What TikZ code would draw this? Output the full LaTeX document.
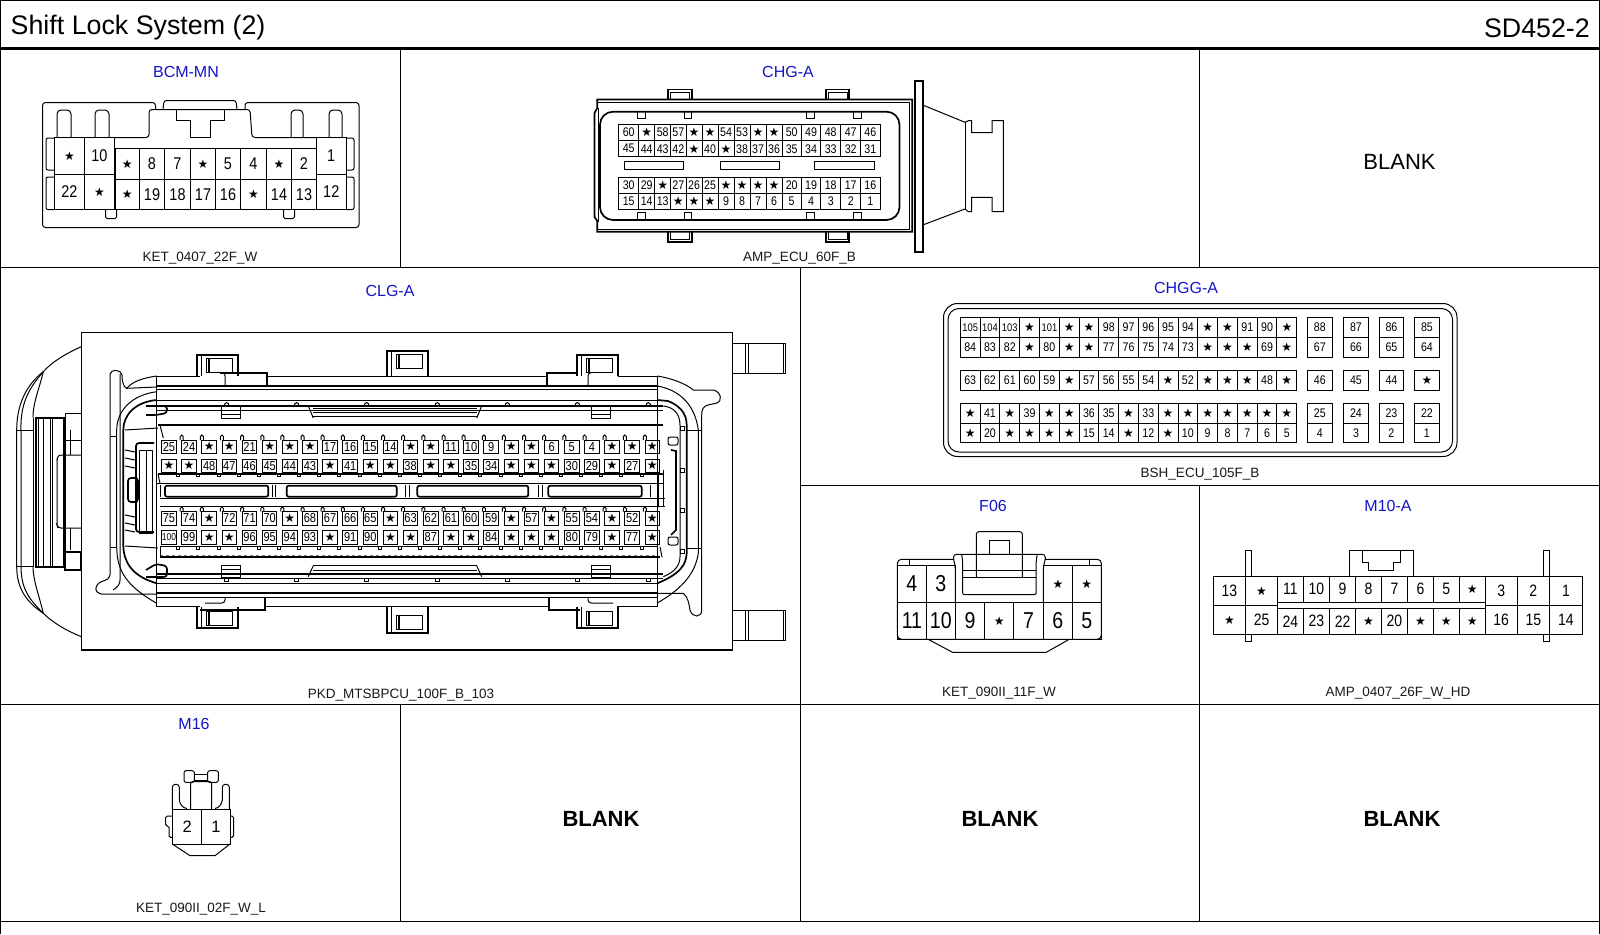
\documentclass[tikz,border=0pt]{standalone}
\usepackage{fontspec}
\setmainfont{Liberation Sans}
\newfontfamily\starf{DejaVu Sans}
\newfontfamily\condf{Liberation Sans}[FakeStretch=0.85]
\def\s{{\fontsize{12}{12}\selectfont\starf ★}}
\definecolor{tblue}{RGB}{20,20,200}
\tikzset{
 ln/.style={line width=1pt,black},
 thk/.style={line width=1.7pt,black},
 lab/.style={inner sep=0pt,outer sep=0pt,text=black},
 conname/.style={inner sep=0pt,text=tblue,font=\fontsize{16}{16}\selectfont},
 concode/.style={inner sep=0pt,text=black!90,font=\fontsize{13.5}{14}\selectfont},
 blankreg/.style={inner sep=0pt,font=\fontsize{22}{22}\selectfont},
 blankbold/.style={inner sep=0pt,font=\fontsize{22}{22}\selectfont\bfseries},
}
% y0 y1 fontsize list of x0/x1/label
\newcommand\xrow[4]{\foreach \a/\b/\t [count=\i] in {#4}{%
  \draw[ln] (\a,#1) rectangle (\b,#2);
  \node[lab,font=\condf\fontsize{#3}{#3}\selectfont] (p#1n\i) at ({(\a+\b)/2},{(#1+#2)/2}) {\t};}}
% uniform row: x0 step width y0 y1 fs labels
\newcommand\urow[7]{\foreach \t [count=\i] in {#7}{%
  \pgfmathsetmacro\a{#1+(\i-1)*#2}\pgfmathsetmacro\b{\a+#3}
  \draw[ln] (\a,#4) rectangle (\b,#5);
  \node[lab,font=\condf\fontsize{#6}{#6}\selectfont] (u#4n\i) at ({(\a+\b)/2},{(#4+#5)/2}) {\t};}}
\begin{document}
\begin{tikzpicture}[x=1pt,y=-1pt]
\useasboundingbox (0,0) rectangle (1600,934);
\fill[white] (0,0) rectangle (1600,934);
% ---------- frame
\draw[ln] (0.5,0.5) -- (1599.5,0.5);
\draw[ln] (0.5,0) -- (0.5,934);
\draw[ln] (1599.5,0) -- (1599.5,934);
\draw[line width=3.6pt] (0,48.5) -- (1600,48.5);
\draw[ln] (0,267) -- (1600,267);
\draw[ln] (800,485.5) -- (1600,485.5);
\draw[ln] (0,704) -- (1600,704);
\draw[ln] (0,921.5) -- (1600,921.5);
\draw[ln] (400.5,48) -- (400.5,267);
\draw[ln] (1199.5,48) -- (1199.5,267);
\draw[ln] (800.5,267) -- (800.5,921.5);
\draw[ln] (1199.5,485.5) -- (1199.5,921.5);
\draw[ln] (400.5,704) -- (400.5,921.5);
% ---------- titles
\node[inner sep=0pt,anchor=west,font=\fontsize{26.8}{27}\selectfont] (title) at (10.5,28) {Shift Lock System (2)};
\node[inner sep=0pt,anchor=east,font=\fontsize{26.8}{27}\selectfont] (sheet) at (1590,28) {SD452-2};
\node[conname] (nBCM) at (186,71.5) {BCM-MN};
\node[concode] (cBCM) at (200,258.5) {KET\_0407\_22F\_W};
\node[conname] (nCHG) at (788,71.5) {CHG-A};
\node[concode] (cCHG) at (799.5,258.5) {AMP\_ECU\_60F\_B};
\node[conname] (nCLG) at (390,290.5) {CLG-A};
\node[concode] (cCLG) at (401,695) {PKD\_MTSBPCU\_100F\_B\_103};
\node[conname] (nCHGG) at (1186,287.5) {CHGG-A};
\node[concode] (cCHGG) at (1200,474.5) {BSH\_ECU\_105F\_B};
\node[conname] (nF) at (993,506) {F06};
\node[concode] (cF) at (999,693) {KET\_090II\_11F\_W};
\node[conname] (nM10) at (1388,506) {M10-A};
\node[concode] (cM10) at (1398,693) {AMP\_0407\_26F\_W\_HD};
\node[conname] (nM16) at (194,723.5) {M16};
\node[concode] (cM16) at (201,909.5) {KET\_090II\_02F\_W\_L};
\node[blankreg] (b1) at (1399.5,161.5) {BLANK};
\node[blankbold] (b2) at (601,818.5) {BLANK};
\node[blankbold] (b3) at (1000,818.5) {BLANK};
\node[blankbold] (b4) at (1402,818.5) {BLANK};
% ---------- BCM-MN
\draw[ln,rounded corners=3pt] (155.5,109) -- (155.5,102.5) -- (42.5,102.5) -- (42.5,227.5) -- (359,227.5) -- (359,102.5) -- (245,102.5) -- (245,109);
\draw[ln,rounded corners=2.5pt] (163,109) -- (164,100.5) -- (236,100.5) -- (237,109);
\draw[ln,rounded corners=3pt] (115,137.5) -- (149,137.5) -- (149,109.5) -- (250,109.5) -- (252,137.5) -- (317,137.5);
\draw[ln] (176,110) -- (176,120) -- (190,120) -- (190,137) -- (210,137) -- (210,120) -- (224,120) -- (224,110);
\foreach \p/\q in {57/71,95/109,291/303,329/342}{\draw[ln,rounded corners=4pt] (\p,137.5) -- (\p,110) -- (\q,110) -- (\q,137.5);}
\draw[ln,rounded corners=2pt] (54,138) -- (46,138) -- (46,170) -- (54,170);
\draw[ln,rounded corners=2pt] (54,177) -- (46,177) -- (46,209.5) -- (54,209.5);
\draw[ln,rounded corners=2pt] (346,138) -- (354,138) -- (354,170) -- (346,170);
\draw[ln,rounded corners=2pt] (346,177) -- (354,177) -- (354,209.5) -- (346,209.5);
\draw[ln,rounded corners=1.5pt] (105.5,209.5) -- (105.5,218.5) -- (116.5,218.5) -- (116.5,209.5);
\draw[ln,rounded corners=1.5pt] (283.5,209.5) -- (283.5,218.5) -- (294.5,218.5) -- (294.5,209.5);
\xrow{137.5}{174.5}{17}{54.5/84.5/\s,84.5/114.5/10,316.5/346/1}
\xrow{174.5}{209.5}{17}{54.5/84.5/22,84.5/114.5/\s,316.5/346/12}
\xrow{148.5}{179.5}{17}{115/139.5/\s,139.5/164.5/8,164.5/190.5/7,190.5/215.5/\s,215.5/240.5/5,240.5/266.5/4,266.5/291.5/\s,291.5/316.5/2}
\xrow{179.5}{209.5}{17}{115/139.5/\s,139.5/164.5/19,164.5/190.5/18,190.5/215.5/17,215.5/240.5/16,240.5/266.5/\s,266.5/291.5/14,291.5/316.5/13}
% ---------- CHG-A
\draw[thk] (597.3,99.5) -- (912.3,99.5) -- (912.3,231.7) -- (597.3,231.7) -- (597.3,221) -- (594.5,217) -- (594.5,113) -- (597.3,108) -- cycle;
\draw[ln] (597.3,102) -- (909.5,102) -- (909.5,229) -- (597.3,229);
\draw[ln] (598.5,108) -- (598.5,222);
\draw[thk,rounded corners=13pt] (600,111.7) rectangle (899.5,220);
\foreach \p/\q in {637.3/645.7,684/691.7,806.7/814.3,853.3/861.7}{
 \draw[ln] (\p,111.7) rectangle (\q,118.7);
 \draw[ln] (\p,212.3) rectangle (\q,220);}
\foreach \p/\q in {668.3/691.7,826.3/849.3}{
 \draw[thk] (\p,99.5) -- (\p,89.5) -- (\q,89.5) -- (\q,99.5);
 \draw[ln] (\p+2,99.5) -- (\p+2,92) -- (\q-2,92) -- (\q-2,99.5);
 \draw[thk] (\p,231.7) -- (\p,241.7) -- (\q,241.7) -- (\q,231.7);
 \draw[ln] (\p+2,231.7) -- (\p+2,239.2) -- (\q-2,239.2) -- (\q-2,231.7);}
\draw[thk] (915,80.7) rectangle (922.7,251.7);
\draw[ln] (922.7,105) -- (965,122.3) -- (968.3,120.7) -- (971.7,120.7) -- (971.7,132.7) -- (992,132.7) -- (992,120.7) -- (1003.3,120.7) -- (1003.3,211.7) -- (992,211.7) -- (992,197.3) -- (971.7,197.3) -- (971.7,211.7) -- (968.3,211.7) -- (965,209) -- (922.7,225);
\draw[ln] (965,122.3) -- (965,209);
\foreach \lbls/\ya/\yb in {
 {60,\s,58,57,\s,\s,54,53,\s,\s,50,49,48,47,46}/124.3/140.7,
 {45,44,43,42,\s,40,\s,38,37,36,35,34,33,32,31}/140.7/156.7,
 {30,29,\s,27,26,25,\s,\s,\s,\s,20,19,18,17,16}/177.3/193.3,
 {15,14,13,\s,\s,\s,9,8,7,6,5,4,3,2,1}/193.3/209}{
 \foreach \t [count=\i] in \lbls {
  \pgfmathsetmacro\a{{618.7,638.7,654.7,670.7,686,702,718,734,750,766,782,801.3,820.7,840.7,860.7,880}[\i-1]}
  \pgfmathsetmacro\b{{618.7,638.7,654.7,670.7,686,702,718,734,750,766,782,801.3,820.7,840.7,860.7,880}[\i]}
  \draw[ln] (\a,\ya) rectangle (\b,\yb);
  \node[lab,font=\condf\fontsize{12.5}{12.5}\selectfont] (g\ya n\i) at ({(\a+\b)/2},{(\ya+\yb)/2}) {\t};}}
\foreach \p/\q in {624.7/683.3,720.3/779.3,814.3/874.7}{\draw[ln] (\p,161.7) rectangle (\q,169.3);}
% ---------- CHGG-A
\draw[ln,rounded corners=14pt] (943.5,303.5) rectangle (1457,456.5);
\draw[ln,rounded corners=11pt] (948,308.5) rectangle (1452.5,452);
\urow{960.3}{19.79}{19.79}{317.3}{337.3}{11}{105,104,103,\s}
\urow{1039.5}{19.79}{19.79}{317.3}{337.3}{12.5}{{\fontsize{11}{11}\selectfont 101},\s,\s,98,97,96,95,94,\s,\s,91,90,\s}
\urow{960.3}{19.79}{19.79}{337.3}{357.3}{12.5}{84,83,82,\s,80,\s,\s,77,76,75,74,73,\s,\s,\s,69,\s}
\urow{960.3}{19.79}{19.79}{370.3}{390.3}{12.5}{63,62,61,60,59,\s,57,56,55,54,\s,52,\s,\s,\s,48,\s}
\urow{960.3}{19.79}{19.79}{403.3}{423.3}{12.5}{\s,41,\s,39,\s,\s,36,35,\s,33,\s,\s,\s,\s,\s,\s,\s}
\urow{960.3}{19.79}{19.79}{423.3}{442.7}{12.5}{\s,20,\s,\s,\s,\s,15,14,\s,12,\s,10,9,8,7,6,5}
\xrow{317.3}{337.3}{12.5}{1307.4/1332.2/88,1343.2/1368.7/87,1379/1403.8/86,1414.2/1439.6/85}
\xrow{337.3}{357.3}{12.5}{1307.4/1332.2/67,1343.2/1368.7/66,1379/1403.8/65,1414.2/1439.6/64}
\xrow{370.3}{390.3}{12.5}{1307.4/1332.2/46,1343.2/1368.7/45,1379/1403.8/44,1414.2/1439.6/\s}
\xrow{403.3}{423.3}{12.5}{1307.4/1332.2/25,1343.2/1368.7/24,1379/1403.8/23,1414.2/1439.6/22}
\xrow{423.3}{442.7}{12.5}{1307.4/1332.2/4,1343.2/1368.7/3,1379/1403.8/2,1414.2/1439.6/1}
% ---------- F06
\draw[ln,rounded corners=4pt] (897.4,620) -- (897.4,559.3) -- (953.5,559.3);
\draw[ln,rounded corners=4pt] (1045.3,559.3) -- (1101.3,559.3) -- (1101.3,620);
\draw[ln,rounded corners=4pt] (897.4,620) -- (897.4,639.3) -- (1101.3,639.3) -- (1101.3,620);
\draw[ln,rounded corners=2pt] (909.8,565.7) -- (909.8,559.3);
\draw[ln] (1089,565.7) -- (1089,559.3);
\draw[ln,rounded corners=3pt] (955.3,602.3) -- (955.3,565.7) -- (953.5,560) -- (953.5,554.3) -- (1045.3,554.3) -- (1045.3,560) -- (1043.4,565.7) -- (1043.4,602.3);
\draw[ln,rounded corners=2pt] (961.5,554.3) -- (962.6,560) -- (962.6,594.7) -- (1036.2,594.7) -- (1036.2,560) -- (1037.3,554.3);
\draw[ln] (962.6,570.7) -- (1036.2,570.7);
\draw[ln] (962.6,577.3) -- (1036.2,577.3);
\draw[ln,rounded corners=2.5pt] (976.4,577.3) -- (976.4,531.7) -- (1022.3,531.7) -- (1022.3,577.3);
\draw[ln] (989.3,554.3) -- (989.3,540) -- (1009.5,540) -- (1009.5,554.3);
\draw[ln] (928.2,639.3) -- (952.5,652.3) -- (1046.2,652.3) -- (1069.2,639.3);
\xrow{565.7}{602.3}{23}{897.4/926.4/4,926.4/955.3/3,1043.4/1072.4/\s,1072.4/1101.3/\s}
\xrow{602.3}{639.3}{23}{897.4/926.4/11,926.4/955.3/10,955.3/984.7/9,984.7/1013.6/\s,1013.6/1043.4/7,1043.4/1072.4/6,1072.4/1101.3/5}
% ---------- M10-A
\foreach \p/\q in {1245.5/1251.9,1543.4/1549.4}{
 \draw[ln] (\p,576) -- (\p,550.7) -- (\q,550.7) -- (\q,576);
 \draw[ln] (\p,634.3) -- (\p,641.7) -- (\q,641.7) -- (\q,634.3);}
\draw[ln] (1349.2,576) -- (1349.2,550.7) -- (1413.5,550.7) -- (1413.5,576);
\draw[ln] (1362,550.7) -- (1362,562.7) -- (1368.5,562.7) -- (1368.5,570.7) -- (1393.3,570.7) -- (1393.3,562.7) -- (1400.7,562.7) -- (1400.7,550.7);
\xrow{576}{605.7}{16.5}{1213.3/1245.5/13,1245.5/1277.6/\s,1485.1/1517.3/3,1517.3/1549.4/2,1549.4/1582.5/1}
\xrow{605.7}{634.3}{16.5}{1213.3/1245.5/\s,1245.5/1277.6/25,1485.1/1517.3/16,1517.3/1549.4/15,1549.4/1582.5/14}
\xrow{576}{602.3}{16.5}{1277.6/1303.3/11,1303.3/1329.5/10,1329.5/1355.7/9,1355.7/1381.4/8,1381.4/1407.5/7,1407.5/1433.3/6,1433.3/1459.4/5,1459.4/1485.1/\s}
\xrow{608.3}{634.3}{16.5}{1277.6/1303.3/24,1303.3/1329.5/23,1329.5/1355.7/22,1355.7/1381.4/\s,1381.4/1407.5/20,1407.5/1433.3/\s,1433.3/1459.4/\s,1459.4/1485.1/\s}
% ---------- M16
\draw[ln,rounded corners=2pt] (190.7,809) -- (190.7,781.7) -- (211.7,781.7) -- (211.7,809);
\draw[ln,rounded corners=2pt] (184,770.7) rectangle (194.3,782.3);
\draw[ln,rounded corners=2pt] (207.7,770.7) rectangle (218.3,782.3);
\draw[ln] (194.3,774) -- (207.7,774);
\draw[ln] (194.3,780) -- (207.7,780);
\draw[ln,rounded corners=3pt] (172.3,809) -- (172.3,784.3) -- (179.3,784.3) -- (179.3,800);
\draw[ln,rounded corners=3pt] (229.3,809) -- (229.3,784.3) -- (222.3,784.3) -- (222.3,800);
\draw[ln] (179.3,800) .. controls (180,805) and (183,808) .. (187,808.5);
\draw[ln] (222.3,800) .. controls (221.5,805) and (218.5,808) .. (215,808.5);
\draw[ln] (172.3,809) rectangle (230,844);
\draw[ln] (201.7,809) -- (201.7,844);
\draw[ln] (172.3,844) -- (190,855.7) -- (215,855.7) -- (230,844);
\draw[ln,rounded corners=1.5pt] (172.3,816) -- (165.7,816) -- (165.7,826) -- (169,826) -- (169,837.3) -- (172.3,837.3);
\draw[ln,rounded corners=1.5pt] (230,816) -- (233.5,816) -- (233.5,837.3) -- (230,837.3);
\node[lab,font=\fontsize{16.5}{16.5}\selectfont] (m2) at (187.3,827) {2};
\node[lab,font=\fontsize{16.5}{16.5}\selectfont] (m1) at (216,827) {1};
% ---------- CLG-A body
\draw[ln] (81.3,346.7) .. controls (65,354) and (52,362) .. (43.3,371.7) .. controls (26,385) and (16.7,405) .. (16.7,430) -- (16.7,566.7) .. controls (16.7,590) and (28,603) .. (43.3,613.3) .. controls (52,622) and (65,630) .. (81.3,636.7);
\draw[ln] (43.3,371.7) .. controls (32,385) and (20,400) .. (21,430) -- (21,566) .. controls (21,590) and (30,600) .. (43.3,613.3);
\draw[ln] (43.3,371.7) .. controls (39,390) and (33,402) .. (33,417.7);
\draw[ln] (43.3,613.3) .. controls (39,595) and (33,580) .. (33,566.7);
\draw[ln] (16.7,430) -- (33,430);
\draw[ln] (16.7,566) -- (33,566);
\draw[ln] (33,417.7) -- (33,566.7);
\draw[thk] (36,417.7) rectangle (65,566.7);
\foreach \p in {38,43,50,52,63}{\draw[ln] (\p,417.7) -- (\p,566.7);}
\draw[ln] (65,413) rectangle (81,440);
\draw[ln] (70,430) -- (70,455);
\draw[ln] (70,528) -- (70,550);
\draw[thk] (65,552) rectangle (81,570);
\draw[ln,rounded corners=3pt] (81,455) -- (58,455) -- (57,460) -- (57,525) -- (58,528) -- (81,528);
\draw[line width=1.2pt,fill=white] (81.3,332.3) rectangle (732.7,650);
% right tabs
\foreach \ya/\yb in {343.3/373.3,610/640}{
 \draw[ln] (732.7,\ya) -- (785.7,\ya) -- (785.7,\yb) -- (732.7,\yb);
 \draw[ln] (745,\ya) -- (745,\yb);
 \draw[ln] (748.3,\ya) -- (748.3,\yb);
 \draw[ln] (783,\ya) -- (783,\yb);}
% clips
\foreach \p/\q/\yt in {197.3/237.7/355,577.3/617.7/355,387.3/427.7/351}{
 \draw[thk] (\p+.0,376) -- (\p,\yt) -- (\q,\yt) -- (\q,376);
 \draw[ln] (\p+4,376) -- (\p+4,\yt) ;
 \draw[ln] (\p+9,\yt+3) rectangle (\q-5.5,\yt+17);
 \draw[thk] (\p+11.5,\yt+3) -- (\p+11.5,\yt+17);}
\foreach \p/\q/\yb in {197.3/237.7/628.3,577.3/617.7/628.3,387.3/427.7/632.7}{
 \draw[thk] (\p,606.7) -- (\p,\yb) -- (\q,\yb) -- (\q,606.7);
 \draw[ln] (\p+4,606.7) -- (\p+4,\yb);
 \draw[ln] (\p+9,\yb-17) rectangle (\q-5.5,\yb-3);
 \draw[thk] (\p+11.5,\yb-17) -- (\p+11.5,\yb-3);}
% long horizontal housing lines
\draw[ln] (156.7,376) -- (200,376);
\draw[ln] (266.7,376) -- (546.7,376);
\draw[ln] (617.7,376) -- (657.3,376);
\draw[thk] (220,372.7) -- (266.7,372.7) -- (266.7,386);
\draw[thk] (546.7,386) -- (546.7,372.7) -- (578,372.7);
\draw[ln,rounded corners=3pt] (220,372.7) -- (225,372.7) -- (225,387);
\draw[ln,rounded corners=3pt] (593,372.7) -- (588,372.7) -- (588,387);
\draw[thk] (156.7,386) -- (657.3,386);
\draw[ln] (156.7,389.3) -- (657.3,389.3);
\draw[ln] (156.7,400) -- (657.3,400);
\draw[thk] (156.7,406) -- (663.3,406);
\draw[ln] (156.7,410) -- (663.3,410);
\draw[thk] (158,424.7) -- (663.3,424.7);
\draw[ln] (160,425) -- (163.3,438);
\draw[ln] (158,474) -- (160,483.3);
\draw[thk] (158,474) -- (663,474);
\draw[ln] (157,483.3) -- (663,483.3);
\draw[ln] (160,498.3) -- (665,498.3);
\draw[ln] (160,506.7) -- (665,506.7);
\draw[ln] (160,546.7) -- (658,546.7);
\draw[ln,dashed,gray] (160,555) -- (656,555);
\draw[thk] (160,557.3) -- (660,557.3);
\draw[ln] (160,546.7) -- (160,557.3);
\draw[ln] (660,546.7) -- (662,557.3);
\draw[thk] (156.7,574) -- (663.3,574);
\draw[ln] (156.7,578.3) -- (663.3,578.3);
\draw[ln] (156.7,583.3) -- (657.3,583.3);
\draw[thk] (156.7,593.3) -- (657.3,593.3);
\draw[ln] (156.7,597.3) -- (657.3,597.3);
\draw[ln] (156.7,606.7) -- (200,606.7);
\draw[ln] (265,606.7) -- (549,606.7);
\draw[ln] (617,606.7) -- (657.3,606.7);
\draw[thk] (200,610) -- (265,610) -- (265,596.7);
\draw[thk] (549,596.7) -- (549,610) -- (580,610);
\draw[ln,rounded corners=3pt] (225,597) -- (225,603) -- (205,603);
\draw[ln,rounded corners=3pt] (588,597) -- (588,603) -- (613,603);
\draw[ln] (156.7,376) -- (156.7,606.7);
\draw[ln] (657.3,376) -- (657.3,606.7);
% long inner strips
\foreach \y in {408,412,416.7}{\draw[ln] (313.3,\y) -- (476.7,\y);}
\draw[ln] (308.3,406) -- (313.3,418);
\draw[ln] (481.7,406) -- (476.7,418);
\foreach \y in {565.7,570,574}{\draw[ln] (313.3,\y) -- (476.7,\y);}
\draw[ln] (308.3,576.7) -- (313.3,565.7);
\draw[ln] (481.7,576.7) -- (476.7,565.7);
\foreach \p/\q in {221.7/240,591.7/610.7}{
 \draw[ln] (\p,406) rectangle (\q,418.3);
 \draw[ln] (\p,414) -- (\q,414);
 \draw[ln] (\p,565) rectangle (\q,577.3);
 \draw[ln] (\p,569) -- (\q,569);}
\foreach \p in {226.7,296.7,366.7,437.3,507.3,577.3,648.3}{
 \draw[ln] (\p-2,406) -- (\p-2,404) -- (\p,402.5) -- (\p+2,404) -- (\p+2,406);
 \draw[ln] (\p-2,578.3) -- (\p-2,581) -- (\p+2,581) -- (\p+2,578.3);}
% centre slots
\foreach \p/\q in {165/268.3,286.7/396.7,417.3/528.3,548.3/641.7}{
 \draw[thk,rounded corners=2pt] (\p,485.7) rectangle (\q,496.7);}
\draw[ln] (272,485) -- (272,497);
\draw[ln] (275,485) -- (275,497);
\draw[ln] (405,485) -- (405,497);
\draw[ln] (409,485) -- (409,497);
\draw[ln] (538,485) -- (538,497);
\draw[ln] (542,485) -- (542,497);
\draw[ln] (160,485) -- (160,497);
\draw[ln] (650,485) -- (650,497);
\draw[ln] (658,474) -- (658,507);
\draw[ln] (663,470) -- (663,507);
% left end contours
\draw[ln] (156.7,376) .. controls (142,378) and (132,382) .. (126.7,388.3) .. controls (123,387) and (122,380) .. (122,375) .. controls (121,369) and (111,369) .. (110,374) -- (110,575) .. controls (108,582) and (102,580) .. (99,583) .. controls (94,587) and (95,593) .. (101,594) -- (156.7,594);
\draw[ln] (120,374) -- (120,580) .. controls (120,584) and (118,587) .. (113,590);
\draw[ln] (126.7,388.3) -- (156.7,387);
\draw[ln] (156.7,391.7) .. controls (132,395) and (117,410) .. (116.7,430) -- (116.7,546.7) .. controls (117,570) and (125,585) .. (156.7,603.3);
\draw[thk] (156.7,400) .. controls (135,402) and (123.3,415) .. (123.3,430) -- (123.3,546) .. controls (124,565) and (135,577) .. (156.7,583.3);
\draw[ln] (110,436) -- (116.7,436);
\draw[ln] (110,547) -- (116.7,547);
\draw[ln] (125,430) -- (158,428);
\draw[ln] (125,546) -- (158,548);
\draw[thk,rounded corners=3pt] (128,478) rectangle (138,502);
\draw[thk,rounded corners=3pt] (154,443) -- (136,443) -- (136,532) -- (154,532);
\draw[ln] (139,450) rectangle (152,533);
\draw[ln] (146,450) -- (146,533);
\draw[thk,rounded corners=3pt] (146,406) -- (167,406) -- (167,413) -- (156,415) -- (146,415);
\draw[thk,rounded corners=3pt] (146,577) -- (167,577) -- (167,566) -- (156,564) -- (146,570);
\foreach \y in {450,458,466,515,523,530}{\draw[ln] (125,\y) -- (135,\y+2);}
% right end contours
\draw[ln] (657.3,376) .. controls (670,378) and (685,383) .. (693.3,390) -- (713.3,390) .. controls (722,392) and (722,402) .. (717,403) -- (708,405) .. controls (703,406) and (701.7,410) .. (701.7,415) -- (701.7,610) .. controls (702,618) and (692,618) .. (690,610) .. controls (689,604) and (688,597) .. (683.3,593.3) -- (657.3,593.3);
\draw[ln] (657.3,386) .. controls (680,390) and (695,405) .. (698.3,430) -- (698.3,553.3) .. controls (695,575) and (680,590) .. (657.3,603);
\draw[thk] (657.3,400) -- (668,401) .. controls (678,405) and (686.7,412) .. (686.7,425) -- (686.7,553.3) .. controls (686,565) and (680,574) .. (657.3,583.3);
\draw[ln] (663.3,406) .. controls (672,407) and (680,412) .. (680,425) -- (680,556.7) .. controls (680,565) and (675,572) .. (663.3,576.7);
\draw[ln] (686.7,430) -- (701.7,430);
\draw[ln] (686.7,548) -- (701.7,548);
\draw[thk] (671,450) -- (676,451) -- (676,530) -- (671,535);
\foreach \y in {428,470,510,551}{\draw[ln] (680,\y-2) rectangle (684,\y+2);}
\draw[ln,rounded corners=2pt] (668,437) rectangle (678,445);
\draw[ln,rounded corners=2pt] (668,537) rectangle (678,545);
% pins with small stems
\foreach \i in {1,...,24}{
 \pgfmathsetmacro\p{181.7+(\i-1)*20.14}
 \pgfmathsetmacro\r{178.3+(\i-1)*20.14}
 \draw[ln] (\p-1.5,440) -- (\p-1.5,436.5) -- (\p,435) -- (\p+1.5,436.5) -- (\p+1.5,440);
 \draw[ln] (\r-1.5,473) -- (\r-1.5,476) -- (\r+1.5,476) -- (\r+1.5,473);
 \draw[ln] (\p-1.5,511.7) -- (\p-1.5,508.5) -- (\p,507) -- (\p+1.5,508.5) -- (\p+1.5,511.7);
 \draw[ln] (\r-1.5,546) -- (\r-1.5,549) -- (\r+1.5,549) -- (\r+1.5,546);}
\urow{161.7}{20.14}{14.5}{440}{453.3}{13}{25,24,\s,\s,21,\s,\s,\s,17,16,15,14,\s,\s,11,10,9,\s,\s,6,5,4,\s,\s,\s}
\urow{161.7}{20.14}{14.5}{459}{472.3}{13}{\s,\s,48,47,46,45,44,43,\s,41,\s,\s,38,\s,\s,35,34,\s,\s,\s,30,29,\s,27,\s}
\urow{161.7}{20.14}{14.5}{511.7}{525}{13}{75,74,\s,72,71,70,\s,68,67,66,65,\s,63,62,61,60,59,\s,57,\s,55,54,\s,52,\s}
\urow{161.7}{20.14}{14.5}{530.7}{544}{13}{{\fontsize{10}{10}\selectfont 100},99,\s,\s,96,95,94,93,\s,91,90,\s,\s,87,\s,\s,84,\s,\s,\s,80,79,\s,77,\s}
\end{tikzpicture}
\end{document}
